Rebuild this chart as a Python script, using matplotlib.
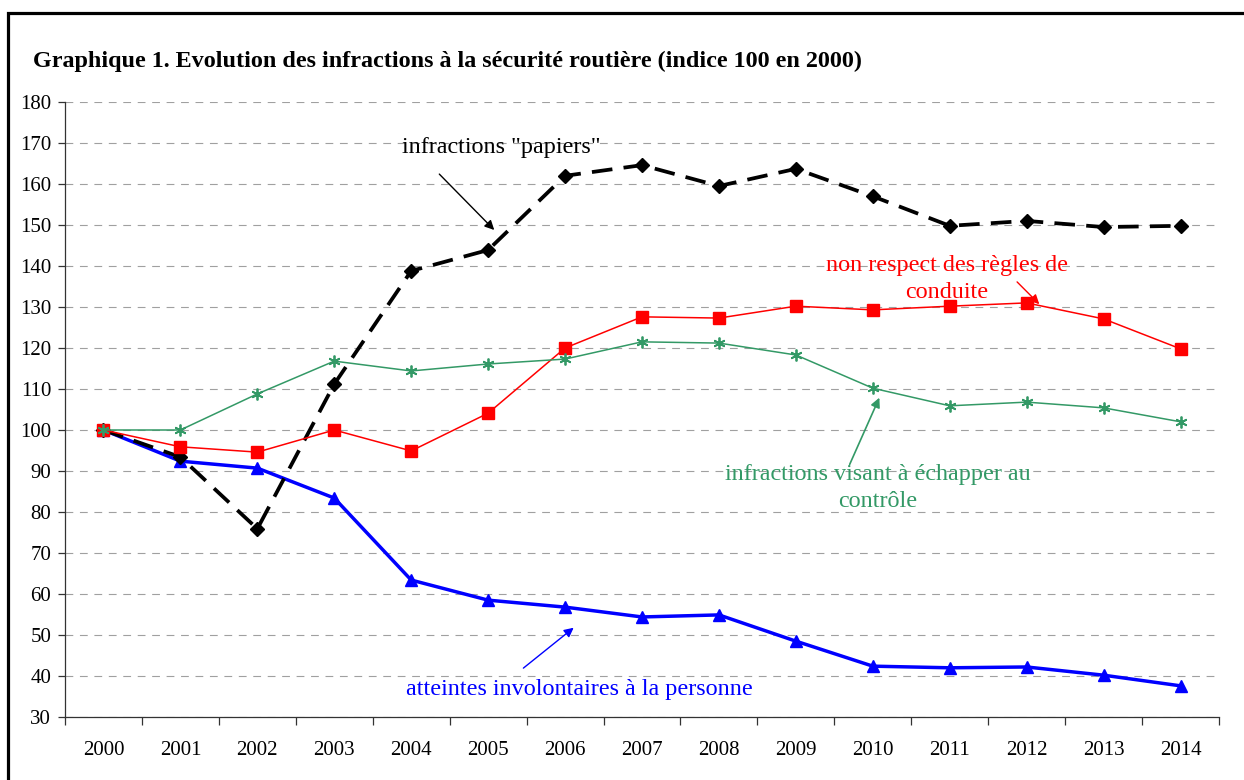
import matplotlib
matplotlib.use("Agg")
from matplotlib import pyplot as plt
from matplotlib.patches import Rectangle

plt.rcParams['font.family'] = ['Liberation Serif', 'DejaVu Serif']

years = [str(y) for y in range(2000, 2015)]
papiers = [100, 93.4, 75.9, 111.2, 138.8, 143.9, 162, 164.6, 159.5, 163.7, 157, 149.8, 151, 149.5, 149.8]
conduite = [100, 95.9, 94.6, 100, 94.9, 104.1, 120, 127.6, 127.3, 130.2, 129.3, 130.2, 131, 127.1, 119.8]
controle = [100, 100, 108.8, 116.8, 114.4, 116.1, 117.3, 121.5, 121.2, 118.3, 110.2, 105.9, 106.8, 105.4, 102]
atteintes = [100, 92.4, 90.7, 83.4, 63.4, 58.5, 56.8, 54.4, 54.9, 48.5, 42.4, 42, 42.2, 40.2, 37.6]

GREEN = '#339966'
LABEL_SIZE = 17.4

fig = plt.figure(figsize=(12.44, 7.8), dpi=100)
ax = fig.add_axes([65 / 1244, 1 - 717 / 780, (1219 - 65) / 1244, (717 - 102) / 780])

x = list(range(len(years)))
ax.plot(x, atteintes, color='blue', lw=2.5, marker='^', ms=8, zorder=3)
ax.plot(x, papiers, color='black', lw=2.7, dashes=(5.5, 3), marker='D', ms=7, zorder=4)
ax.plot(x, conduite, color='red', lw=1.1, marker='s', ms=9, zorder=5)
ax.plot(x, controle, color=GREEN, lw=1.1, marker=(6, 2, 0), ms=8.5, mew=1.3, zorder=6)

ax.set_xlim(-0.5, len(years) - 0.5)
ax.set_ylim(30, 180)
ax.set_yticks(range(30, 181, 10))
ax.yaxis.grid(True, color='#a0a0a0', lw=0.8, linestyle=(0, (7, 6)))
ax.set_axisbelow(True)

# category boundaries carry the tick marks, labels sit at the centres
ax.set_xticks([i - 0.5 for i in range(len(years) + 1)])
ax.set_xticklabels([])
ax.set_xticks(x, minor=True)
ax.set_xticklabels(years, minor=True)
ax.tick_params(axis='x', which='major', direction='out', length=6, width=0.9, color='#333333')
ax.tick_params(axis='x', which='minor', length=0, pad=17, labelsize=15)
ax.tick_params(axis='y', direction='out', length=5, width=0.9, color='#333333', labelsize=15, pad=5)

for side in ('top', 'right'):
    ax.spines[side].set_visible(False)
for side in ('left', 'bottom'):
    ax.spines[side].set_linewidth(0.9)
    ax.spines[side].set_color('#333333')

# labels with their arrows
ax.text(5.17, 169.0, 'infractions "papiers"', ha='center', va='center', fontsize=LABEL_SIZE)
ax.annotate('', xy=(5.105, 148.3), xytext=(4.34, 162.9),
            arrowprops=dict(arrowstyle='-|>', color='black', lw=1, mutation_scale=14))

ax.text(10.96, 136.8, 'non respect des règles de\nconduite', ha='center', va='center',
        fontsize=LABEL_SIZE, color='red', linespacing=1.4)
ax.annotate('', xy=(12.19, 130.2), xytext=(11.85, 136.6),
            arrowprops=dict(arrowstyle='-|>', color='red', lw=1, mutation_scale=14))

ax.text(10.07, 85.8, 'infractions visant à échapper au\ncontrôle', ha='center', va='center',
        fontsize=LABEL_SIZE, color=GREEN, linespacing=1.4)
ax.annotate('', xy=(10.10, 108.5), xytext=(9.685, 91.0),
            arrowprops=dict(arrowstyle='-|>', color=GREEN, lw=1.2, mutation_scale=14))

ax.text(6.18, 36.8, 'atteintes involontaires à la personne', ha='center', va='center',
        fontsize=LABEL_SIZE, color='blue')
ax.annotate('', xy=(6.14, 52.2), xytext=(5.43, 41.5),
            arrowprops=dict(arrowstyle='-|>', color='blue', lw=1, mutation_scale=14))

fig.text(33 / 1244, 1 - 67 / 780,
         'Graphique 1. Evolution des infractions à la sécurité routière (indice 100 en 2000)',
         fontsize=17.4, fontweight='bold', va='baseline', ha='left')

fig.patches.append(Rectangle((8 / 1244, -0.1), 1.2, 0.1 + 1 - 13 / 780, transform=fig.transFigure,
                             fill=False, edgecolor='black', lw=2.3))

fig.savefig('out.png', dpi=100)
